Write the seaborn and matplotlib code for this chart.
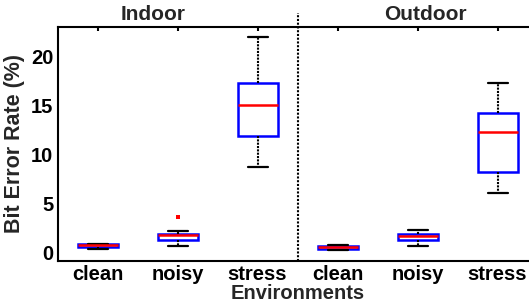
import numpy as np
import pandas as pd
import seaborn as sns
import matplotlib.pyplot as plt

# ---- data ----
groups = ["Indoor clean", "Indoor noisy", "Indoor stress",
          "Outdoor clean", "Outdoor noisy", "Outdoor stress"]
tick_labels = ["clean", "noisy", "stress", "clean", "noisy", "stress"]
whislo = [0.35, 0.65, 8.7, 0.27, 0.60, 6.1]
q1 = [0.50, 1.22, 11.85, 0.30, 1.22, 8.2]
med = [0.72, 1.73, 15.07, 0.50, 1.63, 12.28]
q3 = [0.88, 1.90, 17.30, 0.68, 1.90, 14.2]
whishi = [0.90, 2.20, 21.90, 0.72, 2.30, 17.3]
outlier_group = ["Indoor noisy"]
outlier_value = [3.57]
panel_titles = ["Indoor", "Outdoor"]

rows = []
for g, a, b, c, d, e in zip(groups, whislo, q1, med, q3, whishi):
    for v in (a, b, c, d, e):
        rows.append({"group": g, "ber": v})
df = pd.DataFrame(rows)

sns.set_theme(style="white")
plt.rcParams['font.family'] = ['Liberation Sans', 'DejaVu Sans']
plt.rcParams['font.weight'] = 'bold'

fig = plt.figure(figsize=(5.29, 3.04), dpi=100)
ax = fig.add_axes([57.5 / 529, 43.3 / 304, 480 / 529, 234 / 304])

dots = (0, (1, 0.6))
sns.boxplot(data=df, x="group", y="ber", order=groups, whis=(0, 100),
            width=0.5, color="white", linecolor="blue", linewidth=1.8,
            medianprops={"color": "red", "linewidth": 1.8},
            whiskerprops={"color": "black", "linestyle": dots, "linewidth": 1.5},
            capprops={"color": "black", "linewidth": 1.6},
            ax=ax)
sns.stripplot(x=outlier_group, y=outlier_value, order=groups, jitter=False,
              color="red", marker="s", size=2.6, linewidth=0, ax=ax)

ax.set_xlim(-0.5, 5.5)
ax.set_ylim(-0.85, 23)
ax.set_yticks([0, 5, 10, 15, 20])
ax.set_xticks(range(6))
ax.set_xticklabels(tick_labels)
ax.axvline(2.5, ymin=0, ymax=1.058, color="black", linestyle=(0, (1, 0.8)),
           linewidth=1.5, clip_on=False)

for sp in ax.spines.values():
    sp.set_color("black")
    sp.set_linewidth(1.5)
ax.tick_params(direction="in", length=3, width=1.5, top=True, right=True,
               labelsize=14.5, pad=3, colors="black")
for lab in ax.get_xticklabels() + ax.get_yticklabels():
    lab.set_fontweight("bold")

ax.set_xlabel("Environments", fontsize=14.5, fontweight="bold", labelpad=0)
ax.set_ylabel("Bit Error Rate (%)", fontsize=15.5, fontweight="bold", labelpad=4)

ax.text(0.69, 1.01, panel_titles[0], transform=ax.get_xaxis_transform(),
        ha="center", va="bottom", fontsize=15, fontweight="bold")
ax.text(4.1, 1.01, panel_titles[1], transform=ax.get_xaxis_transform(),
        ha="center", va="bottom", fontsize=15, fontweight="bold")

fig.savefig("out.png", dpi=100)
